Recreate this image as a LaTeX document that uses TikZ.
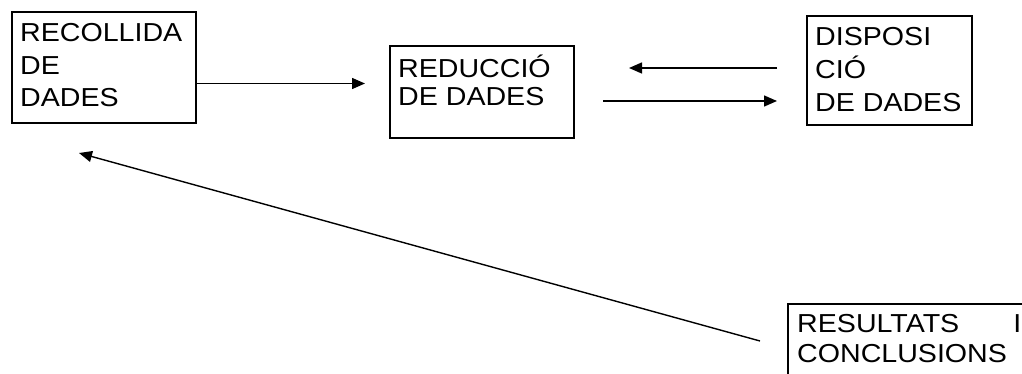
\documentclass[tikz,border=0pt]{standalone}
\usepackage{fontspec}
\setmainfont{Liberation Sans}[FakeStretch=1.1]
\usetikzlibrary{arrows.meta}
\tikzstyle{box} = [rectangle, draw=black, line width=2pt, anchor=north west, inner sep=0pt]
\tikzstyle{boxtext} = [anchor=base west, align=left, inner sep=0pt]
\tikzstyle{arrow} = [line width=1.4pt, -{Triangle[length=13pt,width=11pt]}]

\begin{document}
\begin{tikzpicture}[x=1pt, y=-1pt]
    \useasboundingbox (0,0) rectangle (1022,374);
    \node(recollida)[box, minimum width=184pt, minimum height=111pt] at (11,11) {};
    \node(reduccio)[box, minimum width=184pt, minimum height=92pt] at (389,45) {};
    \node(disposicio)[box, minimum width=165pt, minimum height=109pt] at (806,15) {};
    \node(resultats)[box, minimum width=250pt, minimum height=90pt] at (787,303) {};
    % text sits on the last baseline (first one with text width)
    \node(recollidatext)[boxtext, font=\fontsize{26}{32.5}\selectfont] at ([shift={(9pt,-96pt)}]recollida.north west) {RECOLLIDA\\DE\\DADES};
    \node(reducciotext)[boxtext, font=\fontsize{26}{28}\selectfont] at ([shift={(9pt,-61pt)}]reduccio.north west) {REDUCCIÓ\\DE DADES};
    \node(disposiciotext)[boxtext, font=\fontsize{26}{33}\selectfont] at ([shift={(9pt,-97pt)}]disposicio.north west) {DISPOSI\\CIÓ\\DE DADES};
    \node(resultatstext)[boxtext, text width=224pt, font=\fontsize{26}{30}\selectfont] at ([shift={(10pt,-29pt)}]resultats.north west) {RESULTATS\hfill I\\CONCLUSIONS};
    \draw[arrow, shorten >=24pt]([yshift=-16pt]recollida.east) -- ([yshift=-16pt]recollida.east -| reduccio.west);
    \draw[arrow, shorten <=29pt, shorten >=54pt]([yshift=2.5pt]disposicio.west) -- ([yshift=2.5pt]disposicio.west -| reduccio.east);
    \draw[arrow, shorten <=28pt, shorten >=29pt]([yshift=-9pt]reduccio.east) -- ([yshift=-9pt]reduccio.east -| disposicio.west);
    \draw[arrow]([shift={(-27pt,-38pt)}]resultats.north west) -- ([shift={(68pt,-29pt)}]recollida.south west);
\end{tikzpicture}
\end{document}
